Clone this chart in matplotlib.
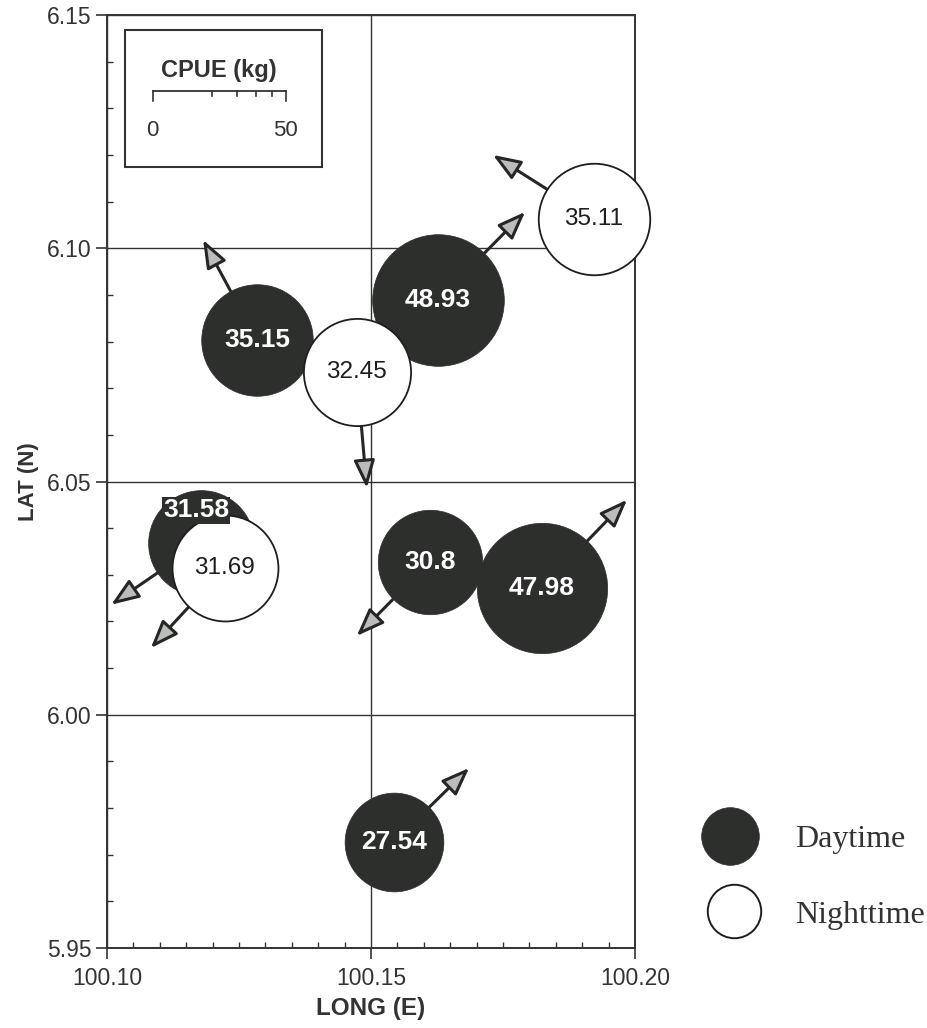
import numpy as np
import matplotlib
matplotlib.use("Agg")
import matplotlib.pyplot as plt
from matplotlib.lines import Line2D
from matplotlib.ticker import MultipleLocator, FormatStrFormatter
import matplotlib.transforms as mtransforms

# ---- data -------------------------------------------------------------
cpue = [35.15, 32.45, 48.93, 35.11, 31.58, 31.69, 30.8, 47.98, 27.54]
period = ["Day", "Night", "Day", "Night", "Day", "Night", "Day", "Day", "Day"]
lon = [100.1284, 100.1473, 100.1627, 100.1922, 100.1178, 100.1223,
       100.1612, 100.1824, 100.1544]
lat = [6.0803, 6.0735, 6.0889, 6.1063, 6.0368, 6.0315, 6.0328, 6.0272, 5.9728]
# arrow tips (direction of movement)
tip_lon = [100.1182, 100.1492, 100.1792, 100.1731, 100.1008, 100.1083,
           100.1473, 100.1985, 100.1686]
tip_lat = [6.1018, 6.0486, 6.1078, 6.1200, 6.0236, 6.0143, 6.0169,
           6.0461, 5.9886]

scale_ticks = [0, 10, 20, 30, 40, 50]
scale_labels = [0, 50]

# ---- style ------------------------------------------------------------
SANS = "Liberation Sans"
SERIF = "Liberation Serif"
DARK = "#2c2f2c"
INK = "#333333"
HEAD = "#b9beb9"
D50_PT = 95.8          # symbol diameter (points) for 50 kg


def diam_pt(v):
    return D50_PT * np.sqrt(v / 50.0)


plt.rcParams["font.family"] = SANS

fig = plt.figure(figsize=(9.27, 10.28), dpi=100)
ax = fig.add_axes([0.1154, 0.0778, 0.5696, 0.9076])

ax.set_xlim(100.10, 100.20)
ax.set_ylim(5.95, 6.15)

ax.xaxis.set_major_locator(MultipleLocator(0.05))
ax.xaxis.set_minor_locator(MultipleLocator(0.005))
ax.yaxis.set_major_locator(MultipleLocator(0.05))
ax.yaxis.set_minor_locator(MultipleLocator(0.01))
ax.xaxis.set_major_formatter(FormatStrFormatter("%.2f"))
ax.yaxis.set_major_formatter(FormatStrFormatter("%.2f"))
ax.tick_params(which="major", direction="out", length=8, width=1.2,
               color=INK, labelcolor=INK, labelsize=16.5)
ax.tick_params(axis="x", which="major", pad=6)
ax.tick_params(axis="y", which="major", pad=3)
ax.tick_params(which="minor", direction="in", length=4, width=1.0, color=INK)

for sp in ax.spines.values():
    sp.set_color(INK)
    sp.set_linewidth(1.4)

ax.grid(True, which="major", color=INK, linewidth=1.0, zorder=1)
ax.set_axisbelow(True)

ax.set_xlabel("LONG (E)", fontsize=17.5, fontweight="bold",
              color=INK, labelpad=5)
ax.set_ylabel("LAT (N)", fontsize=16, fontweight="bold",
              color=INK, labelpad=6)

# ---- arrows -----------------------------------------------------------
for x, y, tx, ty, v in zip(lon, lat, tip_lon, tip_lat, cpue):
    ax.annotate("", xy=(tx, ty), xytext=(x, y), zorder=2, annotation_clip=False,
                arrowprops=dict(arrowstyle="-|>,head_length=1.0,head_width=0.38",
                                mutation_scale=17, shrinkA=diam_pt(v) / 2,
                                shrinkB=0, fc=HEAD, ec="#262626", lw=2.2))

# ---- circles ----------------------------------------------------------
for x, y, v, p in zip(lon, lat, cpue, period):
    d = diam_pt(v)
    if p == "Day":
        ax.scatter([x], [y], s=d ** 2, c=DARK, edgecolors=DARK,
                   linewidths=0.5, zorder=3, clip_on=False)
    else:
        ax.scatter([x], [y], s=d ** 2, c="white", edgecolors="#1e1e1e",
                   linewidths=1.3, zorder=4, clip_on=False)

for x, y, v, p in zip(lon, lat, cpue, period):
    label = f"{v:g}"
    if p == "Day" and v == 31.58:
        ax.annotate(label, (x, y), xytext=(-3.5, 23.5), textcoords="offset points",
                    ha="center", va="center", fontsize=19, fontweight="bold",
                    color="white", zorder=6,
                    bbox=dict(boxstyle="square,pad=0.05", fc=DARK, ec="none"))
    elif p == "Day":
        ax.text(x, y, label, ha="center", va="center", fontsize=19,
                fontweight="bold", color="white", zorder=5)
    else:
        ax.text(x, y, label, ha="center", va="center", fontsize=17.5,
                color="#1e1e1e", zorder=5)

# ---- CPUE scale box ---------------------------------------------------
box = plt.Rectangle((0.034, 0.837), 0.373, 0.147, transform=ax.transAxes,
                    fill=True, fc="white", ec=INK, lw=1.5, zorder=7)
ax.add_patch(box)
ax.text(0.212, 0.941, "CPUE (kg)", transform=ax.transAxes, ha="center",
        va="center", fontsize=17, fontweight="bold", color=INK, zorder=8)

bx, by = 0.0866, 0.9185
start = ax.transAxes.transform((bx, by))
bar_len_px = diam_pt(50) / 72.0 * fig.dpi
ax.add_line(Line2D([start[0], start[0] + bar_len_px], [start[1], start[1]],
                   transform=None, color=INK, lw=1.3, zorder=8))
for t in scale_ticks:
    off = mtransforms.ScaledTranslation(diam_pt(t) / 72.0, 0, fig.dpi_scale_trans)
    tick_len = 0.011 if t in (0, 50) else 0.005
    ax.add_line(Line2D([bx, bx], [by, by - tick_len],
                       transform=ax.transAxes + off,
                       color=INK, lw=1.2, zorder=8))
for t in scale_labels:
    off = mtransforms.ScaledTranslation(diam_pt(t) / 72.0, 0, fig.dpi_scale_trans)
    ax.text(bx, 0.8765, str(t), transform=ax.transAxes + off, ha="center",
            va="center", fontsize=16, color=INK, zorder=8)

# ---- period key (right-hand side) -------------------------------------
key = fig.add_axes([0, 0, 1, 1], facecolor="none")
key.set_axis_off()
key.set_xlim(0, 927)
key.set_ylim(1028, 0)
key.plot([730], [836], ls="none", marker="o", markersize=41.5, mfc=DARK,
         mec=DARK, mew=0.5)
key.plot([734], [911], ls="none", marker="o", markersize=38.5, mfc="white",
         mec="#1e1e1e", mew=1.4)
key.text(795, 840, "Daytime", family=SERIF, fontsize=23, color=INK,
         ha="left", va="center")
key.text(795, 915, "Nighttime", family=SERIF, fontsize=23, color=INK,
         ha="left", va="center")

fig.savefig("out.png", dpi=100)
